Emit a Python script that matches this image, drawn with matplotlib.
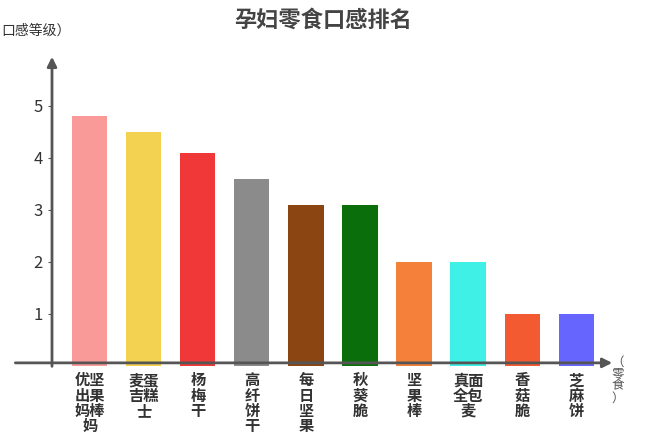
import matplotlib.pyplot as plt

plt.rcParams['font.family'] = ['Noto Sans CJK SC', 'DejaVu Sans']

# =========================
# Data
# =========================
snacks = ["优坚\n出果\n妈棒\n妈", "麦蛋\n吉糕\n士", "杨\n梅\n干", "高\n纤\n饼\n干", "每\n日\n坚\n果",
          "秋\n葵\n脆", "坚\n果\n棒", "真面\n全包\n麦", "香\n菇\n脆", "芝\n麻\n饼"]
scores = [4.8, 4.5, 4.1, 3.6, 3.1, 3.1, 2.0, 2.0, 1.0, 1.0]
colors = ["#f99a99", "#f2d250", "#f03838", "#8b8b8b", "#8b4513",
          "#0a6e0a", "#f5803a", "#3ff0e6", "#f45a32", "#6666ff"]

# =========================
# Plot
# =========================
fig = plt.figure(figsize=(6.47, 4.37), dpi=100)
ax = fig.add_axes([52 / 647, 1 - 366 / 437, (615 - 52) / 647, 312 / 437])

x = list(range(len(scores)))
ax.bar(x, scores, width=0.65, color=colors)
ax.set_xlim(-0.70, 9.72)
ax.set_ylim(0, 6)

for s in ax.spines.values():
    s.set_visible(False)
ax.set_xticks([])
ax.set_yticks([1, 2, 3, 4, 5])
ax.tick_params(axis='y', length=3, color='#555555', labelsize=12, labelcolor='#333333')

# axis arrows
ax.annotate("", xy=(0, 1), xytext=(0, -0.01), xycoords='axes fraction',
            arrowprops=dict(arrowstyle='-|>', color='#555555', lw=2, mutation_scale=14))
ax.annotate("", xy=(1, 0.01), xytext=(-0.07, 0.01), xycoords='axes fraction',
            arrowprops=dict(arrowstyle='-|>', color='#555555', lw=2, mutation_scale=14),
            annotation_clip=False)

# category labels
for i, name in enumerate(snacks):
    ax.text(i, -0.12, name, ha='center', va='top', fontsize=11, fontweight='bold',
            color='#333333', linespacing=0.95, clip_on=False)

fig.text(0.5, 0.955, "孕妇零食口感排名", ha='center', va='center', fontsize=16,
         fontweight='bold', color='#444444')
fig.text(0.002, 0.93, "口感等级）", ha='left', va='center', fontsize=10, color='#333333')
fig.text(0.955, 0.13, "（\n零\n食\n）", ha='center', va='center', fontsize=9,
         color='#555555', linespacing=0.9)

fig.savefig("out.png", dpi=100, facecolor='white')
